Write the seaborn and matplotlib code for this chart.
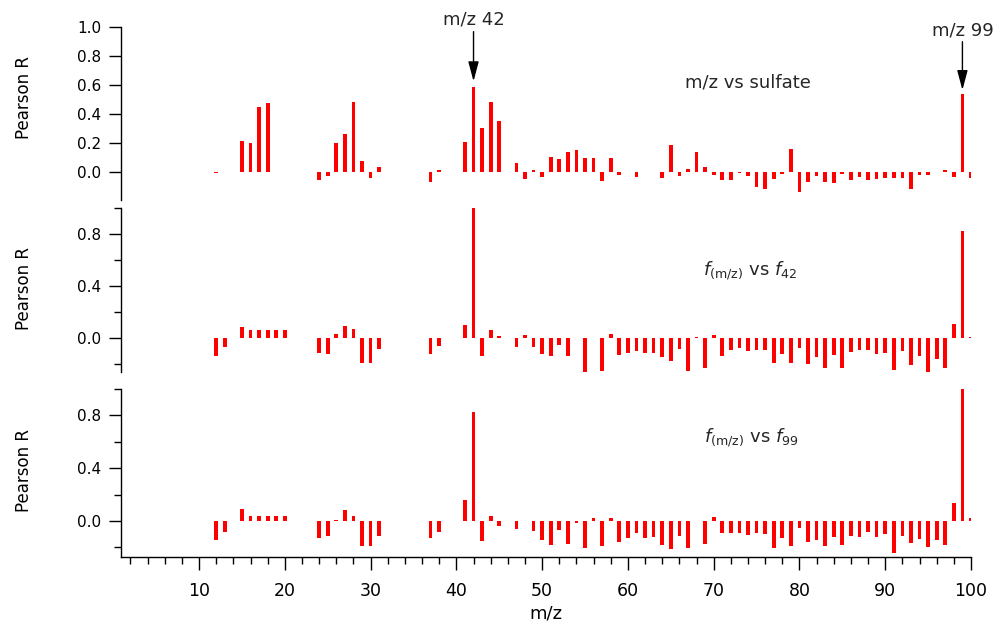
import numpy as np
import pandas as pd
import seaborn as sns
import matplotlib
matplotlib.use("Agg")
import matplotlib.pyplot as plt
from matplotlib.ticker import MultipleLocator, FixedLocator, FormatStrFormatter

sns.set_style("ticks")
plt.rcParams["font.family"] = ["DejaVu Sans"]
plt.rcParams["mathtext.fontset"] = "dejavusans"

# ---------------- data ----------------
mz_top = [12, 13, 15, 16, 17, 18, 24, 25, 26, 27, 28, 29, 30, 31, 37, 38,
          41, 42, 43, 44, 45] + list(range(47, 101))
r_sulfate = [-0.005, 0.003, 0.217, 0.201, 0.448, 0.478,
             -0.053, -0.028, 0.199, 0.263, 0.485, 0.078, -0.037, 0.036,
             -0.064, 0.016,
             0.21, 0.588, 0.302, 0.485, 0.352,
             0.066, -0.046, 0.014, -0.034, 0.107, 0.094, 0.137, 0.151, 0.10, 0.10,
             -0.057, 0.098, -0.016, 0.005, -0.03, 0.005, 0.003, -0.037, 0.188, -0.023,
             0.023, 0.142, 0.034, -0.018, -0.053, -0.053, -0.003, -0.025, -0.099, -0.117,
             -0.046, -0.01, 0.160, -0.133, -0.064, -0.023, -0.064, -0.071, -0.012, -0.053,
             -0.034, -0.053, -0.048, -0.041, -0.041, -0.037, -0.112, -0.018, -0.016, 0.002,
             0.016, -0.030, 0.536, -0.041]

mz_frac = [12, 13, 15, 16, 17, 18, 19, 20, 24, 25, 26, 27, 28, 29, 30, 31, 37, 38,
           41, 42, 43, 44, 45] + list(range(47, 101))
r_f42 = [-0.138, -0.072, 0.082, 0.059, 0.059, 0.059, 0.059, 0.059,
         -0.118, -0.128, 0.028, 0.09, 0.064, -0.197, -0.197, -0.09,
         -0.128, -0.064,
         0.097, 1.0, -0.138, 0.059, 0.013,
         -0.069, 0.018, -0.069, -0.123, -0.141, -0.054, -0.138, -0.005, -0.262, -0.005,
         -0.254, 0.028, -0.133, -0.115, -0.10, -0.121, -0.121, -0.151, -0.179, -0.087,
         -0.254, 0.003, -0.233, 0.018, -0.138, -0.095, -0.082, -0.10, -0.095, -0.095,
         -0.192, -0.123, -0.197, -0.077, -0.205, -0.151, -0.236, -0.136, -0.231, -0.113,
         -0.097, -0.095, -0.123, -0.115, -0.251, -0.10, -0.208, -0.138, -0.264, -0.162,
         -0.231, 0.105, 0.821, 0.005]
r_f99 = [-0.146, -0.081, 0.088, 0.038, 0.038, 0.038, 0.038, 0.038,
         -0.126, -0.114, 0.005, 0.081, 0.038, -0.187, -0.187, -0.114,
         -0.129, -0.081,
         0.159, 0.826, -0.154, 0.038, -0.038,
         -0.063, 0.003, -0.073, -0.146, -0.179, -0.068, -0.177, -0.013, -0.207, 0.02,
         -0.187, 0.025, -0.157, -0.126, -0.088, -0.126, -0.119, -0.179, -0.212, -0.111,
         -0.202, 0.003, -0.172, 0.033, -0.093, -0.088, -0.093, -0.109, -0.088, -0.101,
         -0.202, -0.126, -0.192, -0.056, -0.157, -0.144, -0.189, -0.119, -0.179, -0.116,
         -0.121, -0.086, -0.119, -0.098, -0.245, -0.111, -0.169, -0.136, -0.199, -0.141,
         -0.184, 0.134, 1.0, 0.025]

top_ticks = [0.0, 0.2, 0.4, 0.6, 0.8, 1.0]
sub_major = [0.0, 0.4, 0.8]
sub_minor = [-0.2, 0.2, 0.6, 1.0]

# ---------------- figure ----------------
W, H = 998, 623
fig = plt.figure(figsize=(W / 100, H / 100), dpi=100)

left_px, right_px = 121, 971
def rect(top_px, bot_px):
    return [left_px / W, 1 - bot_px / H, (right_px - left_px) / W, (bot_px - top_px) / H]

ax1 = fig.add_axes(rect(26.7, 200.0))
ax2 = fig.add_axes(rect(207.7, 371.5))
ax3 = fig.add_axes(rect(389.0, 556.6))

panels = [(ax1, mz_top, r_sulfate, (-0.19, 1.0)),
          (ax2, mz_frac, r_f42, (-0.26, 1.0)),
          (ax3, mz_frac, r_f99, (-0.27, 1.0))]

for ax, mz, r, yl in panels:
    df = pd.DataFrame({"mz": mz, "r": r})
    sns.barplot(data=df, x="mz", y="r", native_scale=True, orient="x",
                color="#ff0000", saturation=1, width=0.43, errorbar=None,
                linewidth=0, ax=ax)
    ax.set_xlim(0.9, 100)
    ax.set_ylim(*yl)
    ax.set_xlabel("")
    ax.set_ylabel("")
    ax.set_facecolor("none")
    for s in ["top", "right"]:
        ax.spines[s].set_visible(False)
    for s in ["left", "bottom"]:
        ax.spines[s].set_linewidth(1.0)
        ax.spines[s].set_color("black")
    ax.tick_params(axis="y", which="major", length=8.6, width=1.0, direction="out",
                   labelsize=11, pad=5.5, color="black", labelcolor="black")
    ax.tick_params(axis="y", which="minor", length=4.8, width=1.0, direction="out",
                   color="black")

for ax in (ax1, ax2):
    ax.spines["bottom"].set_visible(False)
    ax.tick_params(axis="x", which="both", bottom=False, labelbottom=False)

ax1.yaxis.set_major_locator(FixedLocator(top_ticks))
ax1.yaxis.set_minor_locator(FixedLocator([]))
ax1.yaxis.set_major_formatter(FormatStrFormatter("%.1f"))
for ax in (ax2, ax3):
    ax.yaxis.set_major_locator(FixedLocator(sub_major))
    ax.yaxis.set_minor_locator(FixedLocator(sub_minor))
    ax.yaxis.set_major_formatter(FormatStrFormatter("%.1f"))

ax3.xaxis.set_major_locator(MultipleLocator(10))
ax3.xaxis.set_minor_locator(MultipleLocator(2))
ax3.tick_params(axis="x", which="major", length=9.6, width=1.0, direction="out",
                labelsize=12.5, pad=9, color="black", labelcolor="black")
ax3.tick_params(axis="x", which="minor", length=4.8, width=1.0, direction="out",
                color="black")
ax3.set_xlabel("m/z", fontsize=13, labelpad=3, color="black")

# y labels
for yc in (97.5, 288.0, 470.0):
    fig.text(24 / W, 1 - yc / H, "Pearson R", rotation=90, ha="center", va="center",
             fontsize=12, color="black")

# panel labels
ax1.text(74.0, 0.584, "m/z vs sulfate", ha="center", va="baseline", fontsize=13)
ax2.text(74.2, 0.482, r"$f_{\mathrm{(m/z)}}$ vs $f_{42}$", ha="center", va="baseline",
         fontsize=13)
ax3.text(74.4, 0.596, r"$f_{\mathrm{(m/z)}}$ vs $f_{99}$", ha="center", va="baseline",
         fontsize=13)

# arrows and annotations
astyle = "-|>,head_length=1.2,head_width=0.32"
for xm, tip, start, tb in ((42, 0.625, 0.966, 1.012), (99, 0.565, 0.897, 0.943)):
    ax1.annotate("", xy=(xm, tip), xytext=(xm, start), annotation_clip=False,
                 arrowprops=dict(arrowstyle=astyle, color="black", lw=1.0,
                                 mutation_scale=10, shrinkA=0, shrinkB=0))
    ax1.text(xm, tb, f"m/z {xm}", ha="center", va="baseline", fontsize=13,
             clip_on=False)

fig.savefig("out.png", dpi=100)
